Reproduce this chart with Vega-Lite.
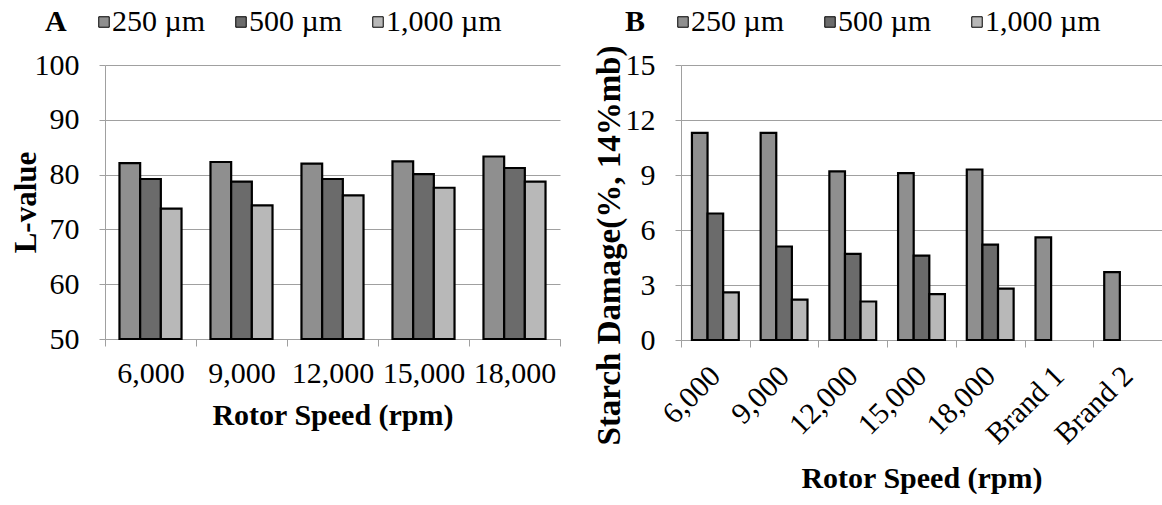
{
  "$schema": "https://vega.github.io/schema/vega-lite/v6.json",
  "padding": {"left": 9, "top": 7, "right": 0, "bottom": 0},
  "bounds": "flush",
  "spacing": 121,
  "config": {
    "font": "Liberation Serif",
    "view": {"stroke": null},
    "axis": {
      "labelFont": "Liberation Serif", "labelFontSize": 30, "labelColor": "black",
      "titleFont": "Liberation Serif", "titleFontSize": 30, "titleFontWeight": "bold", "titleColor": "black",
      "domainColor": "#a0a0a0", "tickColor": "#a0a0a0", "gridColor": "#a0a0a0",
      "domainWidth": 1, "tickWidth": 1, "gridWidth": 1, "labelOverlap": false
    },
    "legend": {
      "orient": "none", "direction": "horizontal", "titleOrient": "left",
      "titlePadding": 22, "columnPadding": 20, "symbolType": "square", "symbolSize": 110,
      "symbolStrokeColor": "black", "symbolStrokeWidth": 1, "labelOffset": -7,
      "labelFont": "Liberation Serif", "labelFontSize": 30, "labelColor": "black",
      "titleFont": "Liberation Serif", "titleFontSize": 30, "titleFontWeight": "bold", "titleColor": "black",
      "padding": 0
    }
  },
  "datasets": {
    "lvalue": [
      {"speed": "6,000", "size": "250 µm", "value": 82.1},
      {"speed": "6,000", "size": "500 µm", "value": 79.2},
      {"speed": "6,000", "size": "1,000 µm", "value": 73.8},
      {"speed": "9,000", "size": "250 µm", "value": 82.3},
      {"speed": "9,000", "size": "500 µm", "value": 78.7},
      {"speed": "9,000", "size": "1,000 µm", "value": 74.4},
      {"speed": "12,000", "size": "250 µm", "value": 82.0},
      {"speed": "12,000", "size": "500 µm", "value": 79.2},
      {"speed": "12,000", "size": "1,000 µm", "value": 76.2},
      {"speed": "15,000", "size": "250 µm", "value": 82.4},
      {"speed": "15,000", "size": "500 µm", "value": 80.1},
      {"speed": "15,000", "size": "1,000 µm", "value": 77.6},
      {"speed": "18,000", "size": "250 µm", "value": 83.3},
      {"speed": "18,000", "size": "500 µm", "value": 81.2},
      {"speed": "18,000", "size": "1,000 µm", "value": 78.7}
    ],
    "starch": [
      {"speed": "6,000", "size": "250 µm", "value": 11.3},
      {"speed": "6,000", "size": "500 µm", "value": 6.9},
      {"speed": "6,000", "size": "1,000 µm", "value": 2.6},
      {"speed": "9,000", "size": "250 µm", "value": 11.3},
      {"speed": "9,000", "size": "500 µm", "value": 5.1},
      {"speed": "9,000", "size": "1,000 µm", "value": 2.2},
      {"speed": "12,000", "size": "250 µm", "value": 9.2},
      {"speed": "12,000", "size": "500 µm", "value": 4.7},
      {"speed": "12,000", "size": "1,000 µm", "value": 2.1},
      {"speed": "15,000", "size": "250 µm", "value": 9.1},
      {"speed": "15,000", "size": "500 µm", "value": 4.6},
      {"speed": "15,000", "size": "1,000 µm", "value": 2.5},
      {"speed": "18,000", "size": "250 µm", "value": 9.3},
      {"speed": "18,000", "size": "500 µm", "value": 5.2},
      {"speed": "18,000", "size": "1,000 µm", "value": 2.8},
      {"speed": "Brand 1", "size": "250 µm", "value": 5.6},
      {"speed": "Brand 2", "size": "250 µm", "value": 3.7}
    ]
  },
  "hconcat": [
    {
      "data": {"name": "lvalue"},
      "width": 455,
      "height": 274,
      "mark": {"type": "bar", "stroke": "black", "strokeWidth": 2.2},
      "encoding": {
        "x": {
          "field": "speed", "type": "nominal",
          "sort": ["6,000", "9,000", "12,000", "15,000", "18,000"],
          "scale": {"paddingInner": 0, "paddingOuter": 0},
          "axis": {"title": "Rotor Speed (rpm)", "labelAngle": 0, "tickBand": "extent", "tickSize": 7, "labelPadding": 12, "titlePadding": 12, "grid": false}
        },
        "xOffset": {
          "field": "size", "type": "nominal",
          "sort": ["250 µm", "500 µm", "1,000 µm"],
          "scale": {"domain": ["250 µm", "500 µm", "1,000 µm"], "paddingInner": 0, "paddingOuter": 0.7}
        },
        "y": {
          "field": "value", "type": "quantitative",
          "scale": {"domain": [50, 100], "zero": false, "nice": false},
          "axis": {"title": "L-value", "titleFontSize": 31, "values": [50, 60, 70, 80, 90, 100], "tickSize": 6, "labelPadding": 20, "grid": true, "titleX": -79, "titleY": 137, "titleBaseline": "middle", "titleAngle": -90, "titleAlign": "center"}
        },
        "y2": {"datum": 50},
        "color": {
          "field": "size", "type": "nominal",
          "scale": {"domain": ["250 µm", "500 µm", "1,000 µm"], "range": ["#8f8f8f", "#6b6b6b", "#b8b8b8"]},
          "legend": {"title": "A", "legendX": -60, "legendY": -58, "columnPadding": 20}
        }
      }
    },
    {
      "data": {"name": "starch"},
      "width": 481,
      "height": 275,
      "mark": {"type": "bar", "stroke": "black", "strokeWidth": 2.2},
      "encoding": {
        "x": {
          "field": "speed", "type": "nominal",
          "sort": ["6,000", "9,000", "12,000", "15,000", "18,000", "Brand 1", "Brand 2"],
          "scale": {"paddingInner": 0, "paddingOuter": 0},
          "axis": {"title": "Rotor Speed (rpm)", "labelAngle": -45, "labelAlign": "right", "labelBaseline": "middle", "tickBand": "extent", "tickSize": 7, "labelPadding": 24, "titlePadding": 14, "grid": false}
        },
        "xOffset": {
          "field": "size", "type": "nominal",
          "sort": ["250 µm", "500 µm", "1,000 µm"],
          "scale": {"domain": ["250 µm", "500 µm", "1,000 µm"], "paddingInner": 0, "paddingOuter": 0.7}
        },
        "y": {
          "field": "value", "type": "quantitative",
          "scale": {"domain": [0, 15], "nice": false},
          "axis": {"title": "Starch Damage(%, 14%mb)", "titleFontSize": 33, "values": [0, 3, 6, 9, 12, 15], "tickSize": 6, "labelPadding": 20, "grid": true, "titleX": -72, "titleY": 180, "titleBaseline": "middle", "titleAngle": -90, "titleAlign": "center"}
        },
        "color": {
          "field": "size", "type": "nominal",
          "scale": {"domain": ["250 µm", "500 µm", "1,000 µm"], "range": ["#8f8f8f", "#6b6b6b", "#b8b8b8"]},
          "legend": {"title": "B", "legendX": -56, "legendY": -58, "columnPadding": 30}
        }
      }
    }
  ],
  "resolve": {"scale": {"color": "independent", "xOffset": "independent"}, "legend": {"color": "independent"}}
}
